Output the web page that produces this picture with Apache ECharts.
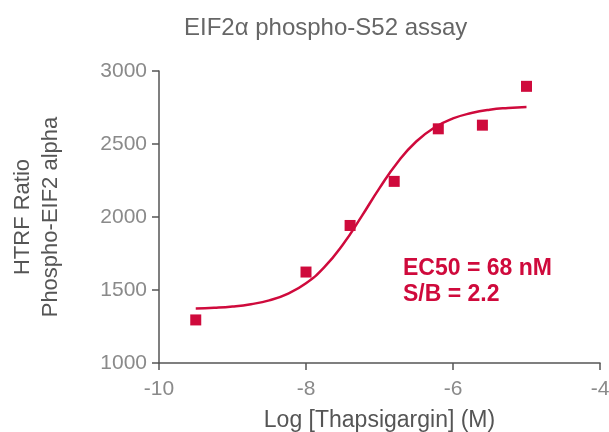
<!DOCTYPE html>
<html><head><meta charset="utf-8">
<script src="https://cdn.jsdelivr.net/npm/echarts@6/dist/echarts.min.js"></script>
<style>html,body{margin:0;padding:0;background:#fff}#c{width:609px;height:432px}</style>
</head><body><div id="c"></div>
<script>
// Measured data points: log [Thapsigargin] (M) and HTRF ratio
const logConc = [-9.5, -8.0, -7.4, -6.8, -6.2, -5.6, -5.0];
const htrf = [1295, 1623, 1942, 2244, 2604, 2629, 2895];
// Fitted curve
const curveX = [-9.5,-9.25,-9.0,-8.75,-8.5,-8.25,-8.0,-7.75,-7.5,-7.25,-7.0,-6.75,-6.5,-6.25,-6.0,-5.75,-5.5,-5.25,-5.0];
const curveY = [1373,1378,1387,1403,1429,1474,1546,1656,1810,1999,2198,2377,2517,2613,2675,2712,2735,2747,2754];
const xTicks = [-10, -8, -6, -4];
const yTicks = [1000, 1500, 2000, 2500, 3000];

const red = '#CF0A3C';
const FF = '"Liberation Sans", Arial, sans-serif';
const chart = echarts.init(document.getElementById('c'), null, {renderer: 'canvas'});
chart.setOption({
  animation: false,
  title: {
    text: 'EIF2\u03b1 phospho-S52 assay',
    left: 179, top: 11,
    textStyle: {fontFamily: FF, fontSize: 24, fontWeight: 'normal', color: '#666'}
  },
  grid: {left: 159, right: 9, top: 71, bottom: 69, containLabel: false, outerBoundsMode: 'none'},
  xAxis: {
    type: 'value', min: xTicks[0], max: xTicks[xTicks.length-1], interval: 2,
    name: 'Log [Thapsigargin] (M)', nameLocation: 'middle', nameGap: 46,
    nameTextStyle: {fontFamily: FF, fontSize: 23, color: '#555'},
    axisLine: {lineStyle: {color: '#555', width: 1.5}},
    axisTick: {length: 7, lineStyle: {color: '#555', width: 1.5}},
    axisLabel: {fontFamily: FF, fontSize: 21, color: '#8a8a8a', margin: 16, formatter: v => String(v)},
    splitLine: {show: false}
  },
  yAxis: {
    type: 'value', min: yTicks[0], max: yTicks[yTicks.length-1], interval: 500,
    name: 'HTRF Ratio\nPhospho-EIF2 alpha', nameLocation: 'middle', nameGap: 94,
    nameTextStyle: {fontFamily: FF, fontSize: 22, color: '#555', lineHeight: 28},
    axisLine: {show: true, lineStyle: {color: '#555', width: 1.5}},
    axisTick: {show: true, length: 7, lineStyle: {color: '#555', width: 1.5}},
    axisLabel: {fontFamily: FF, fontSize: 21, color: '#8a8a8a', margin: 12, formatter: v => String(v)},
    splitLine: {show: false}
  },
  series: [
    {
      type: 'line', data: curveX.map((x, i) => [x, curveY[i]]),
      smooth: true, showSymbol: false, lineStyle: {color: red, width: 2.5}, z: 2
    },
    {
      type: 'scatter', data: logConc.map((x, i) => [x, htrf[i]]),
      symbol: 'rect', symbolSize: 11, itemStyle: {color: red, opacity: 1}, z: 3
    }
  ],
  graphic: [
    {type: 'text', x: 403, y: 257, style: {text: 'EC50 = 68 nM', fill: red, font: 'bold 23px "Liberation Sans", Arial, sans-serif'}},
    {type: 'text', x: 403, y: 283, style: {text: 'S/B = 2.2', fill: red, font: 'bold 23px "Liberation Sans", Arial, sans-serif'}}
  ]
});
</script></body></html>
